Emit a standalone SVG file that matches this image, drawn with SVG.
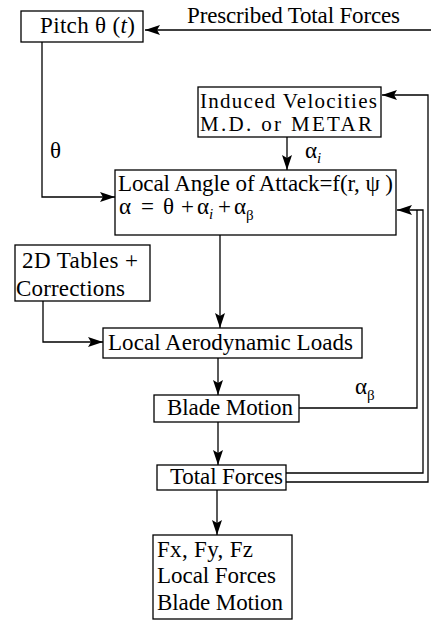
<svg xmlns="http://www.w3.org/2000/svg" width="431" height="620" viewBox="0 0 431 620">
<defs>
<style>
.box{fill:#fff;stroke:#000;stroke-width:1.3}
.t{font-family:"Liberation Serif","Times New Roman",serif;font-size:23px;fill:#000}
.m{font-size:21px}
.s{font-size:15px;fill:#000}
.c{fill:none;stroke:#000;stroke-width:1.3}
</style>
<marker id="ah" markerUnits="userSpaceOnUse" markerWidth="16" markerHeight="10" refX="15" refY="5" orient="auto">
<path d="M0,0 L15,5 L0,10 L3,5 z" fill="#000"/>
</marker>
</defs>
<rect width="431" height="620" fill="#fff"/>
<g id="connectors">
<path class="c" d="M431,30 H145" marker-end="url(#ah)"/>
<path class="c" d="M42,42 V197 H115" marker-end="url(#ah)"/>
<path class="c" d="M287,137 V170" marker-end="url(#ah)"/>
<path class="c" d="M220,235 V328" marker-end="url(#ah)"/>
<path class="c" d="M43,301 V342 H103" marker-end="url(#ah)"/>
<path class="c" d="M218,358 V395" marker-end="url(#ah)"/>
<path class="c" d="M218,422 V465" marker-end="url(#ah)"/>
<path class="c" d="M217,490 V535" marker-end="url(#ah)"/>
<path class="c" d="M299,408 H417 V210"/>
<path class="c" d="M286,473 H423 V210 H397" marker-end="url(#ah)"/>
<path class="c" d="M286,482 H428 V95 H382" marker-end="url(#ah)"/>
<text class="t" x="187" y="23" textLength="213" lengthAdjust="spacing">Prescribed Total Forces</text>
<text class="t" x="50" y="158">θ</text>
<text class="t" x="305" y="158">α<tspan class="s" dy="5" font-style="italic">i</tspan></text>
<text class="t" x="355" y="394">α<tspan class="s" dy="6">β</tspan></text>
</g>
<g id="pitch">
<rect class="box" x="21" y="11" width="122" height="31"/>
<text class="t" x="40" y="33" textLength="95" lengthAdjust="spacing">Pitch θ (<tspan font-style="italic">t</tspan>)</text>
</g>
<g id="induced">
<rect class="box" x="198" y="87" width="183" height="50"/>
<text class="t m" x="200" y="108" textLength="177" lengthAdjust="spacing">Induced Velocities</text>
<text class="t m" x="200" y="131" textLength="172" lengthAdjust="spacing">M.D. or METAR</text>
</g>
<g id="angle">
<rect class="box" x="115" y="170" width="281" height="65"/>
<text class="t" x="118" y="191" textLength="275" lengthAdjust="spacing">Local Angle of Attack=f(r, ψ )</text>
<text class="t" y="214"><tspan x="119">α</tspan><tspan x="141">=</tspan><tspan x="163">θ</tspan><tspan x="181">+</tspan><tspan x="197">α</tspan><tspan class="s" dy="5" font-style="italic">i</tspan><tspan x="218" dy="-5">+</tspan><tspan x="234">α</tspan><tspan class="s" dy="6">β</tspan></text>
</g>
<g id="tables">
<rect class="box" x="15" y="245" width="135" height="56"/>
<text class="t" x="22" y="268" textLength="116" lengthAdjust="spacing">2D Tables +</text>
<text class="t" x="16" y="296" textLength="109" lengthAdjust="spacing">Corrections</text>
</g>
<g id="aero">
<rect class="box" x="103" y="328" width="259" height="30"/>
<text class="t" x="108" y="350" textLength="245" lengthAdjust="spacing">Local Aerodynamic Loads</text>
</g>
<g id="blade">
<rect class="box" x="154" y="395" width="145" height="27"/>
<text class="t" x="167" y="415" textLength="126" lengthAdjust="spacing">Blade Motion</text>
</g>
<g id="total">
<rect class="box" x="157" y="465" width="129" height="25"/>
<text class="t" x="170" y="484" textLength="113" lengthAdjust="spacing">Total Forces</text>
</g>
<g id="output">
<rect class="box" x="153" y="535" width="139" height="84"/>
<text class="t" x="157" y="557" textLength="96" lengthAdjust="spacing">Fx, Fy, Fz</text>
<text class="t" x="157" y="583" textLength="119" lengthAdjust="spacing">Local Forces</text>
<text class="t" x="157" y="610" textLength="126" lengthAdjust="spacing">Blade Motion</text>
</g>
</svg>
